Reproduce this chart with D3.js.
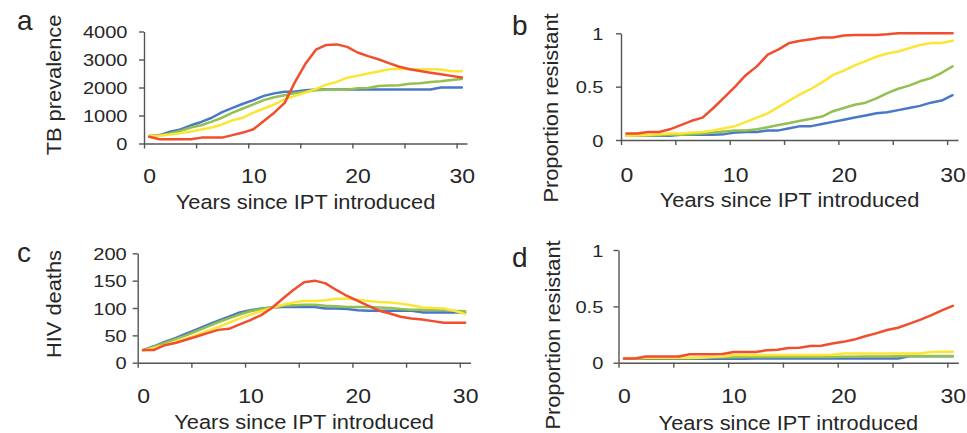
<!DOCTYPE html>
<html>
<head>
<meta charset="utf-8">
<script src="https://cdn.jsdelivr.net/npm/d3@7"></script>
<style>
  body { margin: 0; background: #fff; }
  svg { display: block; font-family: "Liberation Sans", Arial, sans-serif; }
</style>
</head>
<body>
<svg id="chart" width="967" height="433"></svg>
<script>
const YEARS = [0, 1, 2, 3, 4, 5, 6, 7, 8, 9, 10, 11, 12, 13, 14, 15, 16, 17, 18, 19, 20,
  21, 22, 23, 24, 25, 26, 27, 28, 29, 30];
const X_LABEL_TICKS = [0, 10, 20, 30];
// category boundaries, where the small tick marks sit
const X_MARK_TICKS = [-0.5, 4.5, 9.5, 14.5, 19.5, 24.5, 29.5];

const TB_TICKS = [0, 1000, 2000, 3000, 4000];
const HIV_TICKS = [0, 50, 100, 150, 200];
const PROP_TICKS = [0, 0.5, 1];

const LINE_COLORS = {
  blue: "#4a78c8",
  green: "#93c04e",
  yellow: "#fde535",
  red: "#f04e2e",
};
const DRAW_ORDER = ["blue", "green", "yellow", "red"];

// a: TB prevalence
const tbBlue = [270, 300, 420, 500, 650, 770, 920, 1120, 1270, 1420, 1550, 1700, 1790, 1850, 1860,
  1900, 1930, 1930, 1930, 1930, 1930, 1930, 1930, 1930, 1930, 1930, 1930, 1930, 2000, 2000, 2000];
const tbGreen = [270, 290, 360, 450, 570, 650, 780, 920, 1100, 1250, 1400, 1550, 1650, 1720, 1800,
  1850, 1900, 1920, 1920, 1920, 1970, 1980, 2050, 2070, 2080, 2130, 2150, 2200, 2220, 2270, 2300];
const tbYellow = [280, 280, 320, 370, 430, 500, 570, 680, 830, 920, 1100, 1250, 1400, 1580, 1700,
  1820, 1950, 2100, 2200, 2350, 2420, 2500, 2570, 2650, 2670, 2650, 2650, 2650, 2640, 2580, 2580];
const tbRed = [240, 155, 150, 150, 150, 210, 210, 210, 300, 390, 510, 800, 1100, 1450, 2200,
  2850, 3350, 3520, 3540, 3450, 3250, 3120, 3010, 2870, 2740, 2650, 2590, 2530, 2470, 2415, 2356];

// b: proportion resistant
const rbBlue = [0.04, 0.04, 0.04, 0.04, 0.04, 0.05, 0.05, 0.05, 0.05, 0.055, 0.07, 0.075, 0.075,
  0.09, 0.09, 0.11, 0.13, 0.13, 0.15, 0.17, 0.19, 0.21, 0.23, 0.25, 0.26, 0.28, 0.3, 0.32, 0.35, 0.37, 0.42];
const rbGreen = [0.04, 0.04, 0.04, 0.045, 0.05, 0.05, 0.055, 0.06, 0.07, 0.08, 0.09, 0.09, 0.1,
  0.12, 0.14, 0.16, 0.18, 0.2, 0.22, 0.27, 0.3, 0.33, 0.35, 0.39, 0.44, 0.48, 0.51, 0.55, 0.58, 0.63, 0.69];
const rbYellow = [0.04, 0.045, 0.05, 0.055, 0.06, 0.06, 0.07, 0.075, 0.09, 0.11, 0.13, 0.17, 0.21,
  0.25, 0.31, 0.37, 0.43, 0.48, 0.54, 0.61, 0.65, 0.7, 0.74, 0.78, 0.81, 0.83, 0.86, 0.89, 0.91, 0.91, 0.93];
const rbRed = [0.06, 0.06, 0.075, 0.075, 0.1, 0.14, 0.18, 0.21, 0.3, 0.4, 0.5, 0.61, 0.69, 0.8,
  0.85, 0.91, 0.93, 0.945, 0.96, 0.96, 0.98, 0.985, 0.985, 0.985, 0.99, 1, 1, 1, 1, 1, 1];

// c: HIV deaths
const hivBlue = [23, 30, 38, 45, 53, 61, 69, 77, 84, 92, 96, 99, 101, 102, 102, 102, 102, 99, 99,
  98, 96, 95, 95, 95, 95, 95, 92, 92, 92, 92, 92];
const hivGreen = [23, 29, 36, 43, 50, 58, 66, 74, 81, 88, 94, 98, 101, 104, 105, 106, 106, 104, 103,
  102, 102, 102, 101, 100, 98, 97, 97, 97, 97, 95, 94];
const hivYellow = [22, 27, 32, 38, 44, 51, 58, 65, 73, 81, 88, 94, 100, 106, 110, 113, 113, 114, 117,
  117, 115, 113, 111, 110, 108, 105, 101, 100, 99, 95, 89];
const hivRed = [23, 23, 32, 36, 42, 48, 54, 60, 62, 70, 78, 87, 100, 117, 133, 147, 150, 145, 133,
  122, 113, 104, 95, 90, 84, 81, 79, 76, 73, 73, 73];

// d: proportion resistant
const rdBlue = [0.035, 0.035, 0.035, 0.035, 0.035, 0.035, 0.035, 0.035, 0.035, 0.035, 0.035, 0.036,
  0.038, 0.038, 0.038, 0.038, 0.038, 0.038, 0.038, 0.038, 0.038, 0.038, 0.038, 0.038, 0.038, 0.038,
  0.058, 0.058, 0.058, 0.058, 0.058];
const rdGreen = [0.04, 0.04, 0.04, 0.04, 0.04, 0.04, 0.04, 0.045, 0.048, 0.048, 0.048, 0.05, 0.05,
  0.05, 0.05, 0.05, 0.05, 0.05, 0.05, 0.05, 0.053, 0.053, 0.055, 0.055, 0.055, 0.058, 0.06, 0.06,
  0.06, 0.06, 0.06];
const rdYellow = [0.04, 0.04, 0.045, 0.045, 0.045, 0.045, 0.045, 0.045, 0.05, 0.055, 0.068, 0.068,
  0.068, 0.068, 0.068, 0.068, 0.068, 0.068, 0.068, 0.07, 0.082, 0.082, 0.082, 0.082, 0.082, 0.082,
  0.082, 0.082, 0.095, 0.097, 0.097];
const rdRed = [0.038, 0.038, 0.055, 0.055, 0.055, 0.055, 0.075, 0.075, 0.075, 0.078, 0.095, 0.095,
  0.095, 0.11, 0.115, 0.13, 0.133, 0.148, 0.15, 0.17, 0.185, 0.205, 0.235, 0.26, 0.29, 0.31, 0.345,
  0.38, 0.42, 0.465, 0.505];

const X_TITLE = "Years since IPT introduced";
const AXIS_COLOR = "#555";
const TEXT_COLOR = "#262626";
const DIGIT_STRETCH = 1.18;
const TITLE_STRETCH = 1.12;

const panels = [
  {
    letter: "a", yTitle: "TB prevalence", yTicks: TB_TICKS,
    series: { blue: tbBlue, green: tbGreen, yellow: tbYellow, red: tbRed },
    x0: 144, x1: 467, yBottom: 143.5, yTop: 31.5,
    letterAt: [17, 30], yLabelGap: 16.5, tickBase: 183, titleBase: 209, yTitleAt: [60.5, 85],
  },
  {
    letter: "b", yTitle: "Proportion resistant", yTicks: PROP_TICKS,
    series: { blue: rbBlue, green: rbGreen, yellow: rbYellow, red: rbRed },
    x0: 621, x1: 958, yBottom: 140, yTop: 33.3,
    letterAt: [512, 35], yLabelGap: 17.5, tickBase: 182, titleBase: 207, yTitleAt: [558, 108],
  },
  {
    letter: "c", yTitle: "HIV deaths", yTicks: HIV_TICKS,
    series: { blue: hivBlue, green: hivGreen, yellow: hivYellow, red: hivRed },
    x0: 137.7, x1: 470.5, yBottom: 362.7, yTop: 253.3,
    letterAt: [17, 262], yLabelGap: 11, tickBase: 403.3, titleBase: 428.5, yTitleAt: [60.5, 304],
  },
  {
    letter: "d", yTitle: "Proportion resistant", yTicks: PROP_TICKS,
    series: { blue: rdBlue, green: rdGreen, yellow: rdYellow, red: rdRed },
    x0: 618.5, x1: 958.3, yBottom: 362.7, yTop: 250,
    letterAt: [512, 267], yLabelGap: 15.2, tickBase: 403.3, titleBase: 430, yTitleAt: [560, 335],
  },
];

const svg = d3.select("#chart");
panels.forEach((panel) => drawPanel(svg, panel));

function drawPanel(root, panel) {
  const g = root.append("g").attr("class", `panel-${panel.letter}`);
  const x = d3.scaleLinear().domain([-0.5, 30.5]).range([panel.x0, panel.x1]);
  const yMax = panel.yTicks[panel.yTicks.length - 1];
  const y = d3.scaleLinear().domain([0, yMax]).range([panel.yBottom, panel.yTop]);

  // tick marks on category boundaries
  const markAxis = g.append("g")
    .attr("transform", `translate(0,${panel.yBottom})`)
    .call(d3.axisBottom(x).tickValues(X_MARK_TICKS).tickSize(5).tickSizeOuter(0).tickFormat(() => ""));
  styleAxis(markAxis);

  // labels centred on the categories
  const labelAxis = g.append("g")
    .attr("transform", `translate(0,${panel.yBottom})`)
    .call(d3.axisBottom(x).tickValues(X_LABEL_TICKS).tickSize(0).tickFormat(d3.format("d")));
  labelAxis.select(".domain").remove();
  labelAxis.selectAll("text")
    .attr("y", panel.tickBase - panel.yBottom)
    .attr("dy", 0)
    .attr("transform", `scale(${DIGIT_STRETCH},1)`)
    .style("font-size", "19.5px")
    .attr("fill", TEXT_COLOR);

  const yAxis = g.append("g")
    .attr("transform", `translate(${panel.x0},0)`)
    .call(d3.axisLeft(y).tickValues(panel.yTicks).tickSize(5).tickSizeOuter(0).tickFormat((d) => String(d)));
  styleAxis(yAxis);
  yAxis.selectAll("text")
    .attr("x", 0)
    .attr("dy", "0.36em")
    .attr("transform", `translate(${-panel.yLabelGap},0) scale(${DIGIT_STRETCH},1)`)
    .style("font-size", "17px")
    .attr("fill", TEXT_COLOR);

  const line = d3.line()
    .x((d, i) => x(YEARS[i]))
    .y((d) => y(d));

  g.append("g")
    .selectAll("path")
    .data(DRAW_ORDER)
    .join("path")
    .attr("d", (name) => line(panel.series[name]))
    .attr("fill", "none")
    .attr("stroke", (name) => LINE_COLORS[name])
    .attr("stroke-width", 2.5)
    .attr("stroke-linejoin", "round")
    .attr("stroke-linecap", "round");

  g.append("text")
    .attr("transform", `translate(${(panel.x0 + panel.x1) / 2},${panel.titleBase}) scale(${TITLE_STRETCH},1)`)
    .attr("text-anchor", "middle")
    .style("font-size", "19.5px")
    .attr("fill", TEXT_COLOR)
    .text(X_TITLE);

  g.append("text")
    .attr("transform", `translate(${panel.yTitleAt[0]},${panel.yTitleAt[1]}) rotate(-90) scale(${TITLE_STRETCH},1)`)
    .attr("text-anchor", "middle")
    .style("font-size", "19.5px")
    .attr("fill", TEXT_COLOR)
    .text(panel.yTitle);

  g.append("text")
    .attr("x", panel.letterAt[0])
    .attr("y", panel.letterAt[1])
    .style("font-size", "28px")
    .attr("fill", TEXT_COLOR)
    .text(panel.letter);
}

function styleAxis(axisG) {
  axisG.selectAll(".domain, .tick line")
    .attr("stroke", AXIS_COLOR)
    .attr("stroke-width", 1.4);
}
</script>
</body>
</html>
